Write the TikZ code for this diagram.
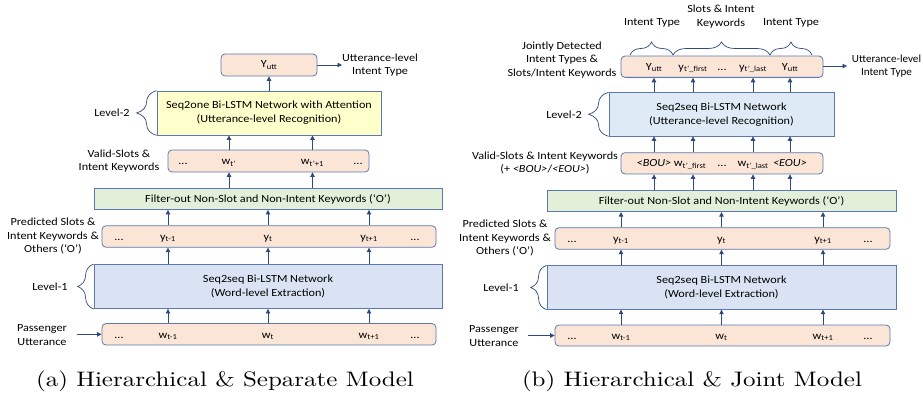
\documentclass[tikz,border=0pt]{standalone}
\usepackage{fontspec}
\newfontfamily\calfont{Carlito}[FakeStretch=1.12]
\newfontfamily\calfontn{Carlito}[FakeStretch=1.02]
\newfontfamily\lmcap{lmroman10-regular}[Extension=.otf, FakeStretch=1.19]
\usetikzlibrary{arrows.meta,decorations.pathreplacing,calc}
\definecolor{peach}{HTML}{FBE5D6}
\definecolor{bord}{HTML}{5B79AE}
\definecolor{navy}{HTML}{2F4B7C}
\definecolor{yel}{HTML}{FFFFCC}
\definecolor{blu1}{HTML}{DAE3F3}
\definecolor{blu2}{HTML}{DEEBF7}
\definecolor{grn}{HTML}{E2F0D9}
\newcommand\sbx[1]{\textsubscript{#1}}
\begin{document}
\begin{tikzpicture}[x=1pt,y=-1pt,
  every node/.style={font=\calfont\fontsize{10.9}{13.8}\selectfont, inner sep=0pt},
  rbox/.style={draw=bord, line width=0.8pt, rounded corners=4pt, fill=peach},
  nbox/.style={draw=bord, line width=0.8pt},
  tx/.style={anchor=base},
  lbl/.style={align=center},
  arr/.style={draw=navy, line width=0.8pt, -{Triangle[length=4.5pt,width=4.5pt]}},
  brc/.style={draw=navy, line width=0.7pt, decorate, decoration={brace, amplitude=#1}},
  captxt/.style={font=\lmcap\fontsize{21}{25}\selectfont, anchor=base}
]
\useasboundingbox (0,0) rectangle (923,396);

% ---------------- (a) ----------------
\node[rbox, minimum width=96, minimum height=22] (ya) at (269,65) {Y\sbx{utt}};
\coordinate (oa) at (342,65);
\draw[arr] (ya.east) -- (oa);
\node[lbl] (uta) at (380,65) {Utterance-level\\Intent Type};

\node[nbox, fill=yel, minimum width=224, minimum height=44, align=center] (l2a) at (269,113) {Seq2one Bi-LSTM Network with Attention\\(Utterance-level Recognition)};
\draw[brc=20] (l2a.south west) -- (l2a.north west);
\node (lv2a) at (112,113) {Level-2};
\draw[arr] (l2a.north) -- (ya.south);

\node[rbox, minimum width=201, minimum height=22] (va) at (268.5,161) {};
\node[tx] (va0) at (183,164.5) {...};
\node[tx] (va1) at (229,164.5) {w\sbx{t’}};
\node[tx] (va2) at (312.5,164.5) {w\sbx{t’+1}};
\node[tx] (va3) at (358,164.5) {...};
\node[lbl] (vla) at (119,161) {Valid-Slots \&\\Intent Keywords};

\node[nbox, fill=grn, minimum width=348, minimum height=21] (fa) at (268,199) {Filter-out Non-Slot and Non-Intent Keywords (‘O’)};

\node[rbox, minimum width=334, minimum height=21.5] (pa) at (269,236.5) {};
\node[tx] (pa0) at (119,240) {...};
\node[tx] (pa1) at (168,240) {y\sbx{t-1}};
\node[tx] (pa2) at (268,240) {y\sbx{t}};
\node[tx] (pa3) at (369,240) {y\sbx{t+1}};
\node[tx] (pa4) at (415,240) {...};
\node[lbl] (pla) at (53,236) {Predicted Slots \&\\Intent Keywords \&\\Others (‘O’)};

\node[nbox, fill=blu1, minimum width=348, minimum height=44, align=center] (l1a) at (268,286.5) {Seq2seq Bi-LSTM Network\\(Word-level Extraction)};
\draw[brc=16] (l1a.south west) -- (l1a.north west);
\node (lv1a) at (50,287) {Level-1};

\node[rbox, minimum width=334, minimum height=21.5] (ua) at (269,334.3) {};
\node[tx] (ua0) at (119,338) {...};
\node[tx] (ua1) at (168,338) {w\sbx{t-1}};
\node[tx] (ua2) at (268,338) {w\sbx{t}};
\node[tx] (ua3) at (369,338) {w\sbx{t+1}};
\node[tx] (ua4) at (415,338) {...};
\node[lbl] (psa) at (42,335) {Passenger\\Utterance};
\coordinate (ia) at (77,334.3);
\draw[arr] (ia) -- (ua.west);

\foreach \k in {va1,va2}{
  \draw[arr] (va.north -| \k) -- (l2a.south -| \k);
  \draw[arr] (fa.north -| \k) -- (va.south -| \k);
}
\foreach \k in {pa1,pa2,pa3}{
  \draw[arr] (pa.north -| \k) -- (fa.south -| \k);
  \draw[arr] (l1a.north -| \k) -- (pa.south -| \k);
  \draw[arr] (ua.north -| \k) -- (l1a.south -| \k);
}
\node[captxt] (capa) at (225,386.7) {(a) Hierarchical \& Separate Model};

% ---------------- (b) ----------------
\node[rbox, minimum width=202, minimum height=21.3] (yb) at (722,66.7) {};
\node[tx] (yb1) at (654,70.2) {Y\sbx{utt}};
\node[tx] (yb2) at (693,70.2) {y\sbx{t’\_first}};
\node[tx] (yb3) at (722,70.2) {...};
\node[tx] (yb4) at (753,70.2) {y\sbx{t’\_last}};
\node[tx] (yb5) at (790,70.2) {Y\sbx{utt}};
\draw[brc=13] (630,55) -- (673,55);
\draw[brc=13] (673,55) -- (770,55);
\draw[brc=13] (770,55) -- (812,55);
\node[lbl] (it1) at (652,23) {Intent Type};
\node[lbl] (sik) at (721,16.3) {Slots \& Intent\\Keywords};
\node[lbl] (it2) at (791,23) {Intent Type};
\node[lbl] (jd) at (562,60) {Jointly Detected\\Intent Types \&\\Slots/Intent Keywords};
\coordinate (ob) at (847,66);
\draw[arr] (yb.east |- ob) -- (ob);
\node[lbl, font=\calfontn\fontsize{10.9}{13.8}\selectfont] (utb) at (886.5,66) {Utterance-level\\Intent Type};

\node[nbox, fill=blu2, minimum width=225, minimum height=43.3, align=center] (l2b) at (721.5,114.3) {Seq2seq Bi-LSTM Network\\(Utterance-level Recognition)};
\draw[brc=20] (l2b.south west) -- (l2b.north west);
\node (lv2b) at (564,114.3) {Level-2};

\node[rbox, minimum width=202, minimum height=21.3] (vb) at (722,163.3) {};
\node[tx] (vb1) at (654,166.8) {\textit{<BOU>}};
\node[tx] (vb2) at (690,166.8) {w\sbx{t’\_first}};
\node[tx] (vb3) at (722,166.8) {...};
\node[tx] (vb4) at (753,166.8) {w\sbx{t’\_last}};
\node[tx] (vb5) at (790,166.8) {\textit{<EOU>}};
\node[lbl] (vlb) at (545,163) {Valid-Slots \& Intent Keywords\\(+ \textit{<BOU>}/\textit{<EOU>})};

\node[nbox, fill=grn, minimum width=349, minimum height=21] (fb) at (721.5,201.2) {Filter-out Non-Slot and Non-Intent Keywords (‘O’)};

\node[rbox, minimum width=335, minimum height=21.6] (pb) at (722.5,238.5) {};
\node[tx] (pb0) at (572,242) {...};
\node[tx] (pb1) at (621,242) {y\sbx{t-1}};
\node[tx] (pb2) at (721.5,242) {y\sbx{t}};
\node[tx] (pb3) at (823,242) {y\sbx{t+1}};
\node[tx] (pb4) at (868,242) {...};
\node[lbl] (plb) at (505,238) {Predicted Slots \&\\Intent Keywords \&\\Others (‘O’)};

\node[nbox, fill=blu1, minimum width=349, minimum height=43.6, align=center] (l1b) at (721.5,287.5) {Seq2seq Bi-LSTM Network\\(Word-level Extraction)};
\draw[brc=16] (l1b.south west) -- (l1b.north west);
\node (lv1b) at (501,288) {Level-1};

\node[rbox, minimum width=335, minimum height=21] (ub) at (722.5,335.5) {};
\node[tx] (ub0) at (572,339) {...};
\node[tx] (ub1) at (621,339) {w\sbx{t-1}};
\node[tx] (ub2) at (721.5,339) {w\sbx{t}};
\node[tx] (ub3) at (823,339) {w\sbx{t+1}};
\node[tx] (ub4) at (868,339) {...};
\node[lbl] (psb) at (494,336) {Passenger\\Utterance};
\coordinate (ib) at (528,335.5);
\draw[arr] (ib) -- (ub.west);

\foreach \k in {yb1,yb2,yb4,yb5}{
  \draw[arr] (l2b.north -| \k) -- (yb.south -| \k);
  \draw[arr] (vb.north -| \k) -- (l2b.south -| \k);
  \draw[arr] (fb.north -| \k) -- (vb.south -| \k);
}
\foreach \k in {pb1,pb2,pb3}{
  \draw[arr] (pb.north -| \k) -- (fb.south -| \k);
  \draw[arr] (l1b.north -| \k) -- (pb.south -| \k);
  \draw[arr] (ub.north -| \k) -- (l1b.south -| \k);
}
\node[captxt] (capb) at (692,386.7) {(b) Hierarchical \& Joint Model};
\end{tikzpicture}
\end{document}
